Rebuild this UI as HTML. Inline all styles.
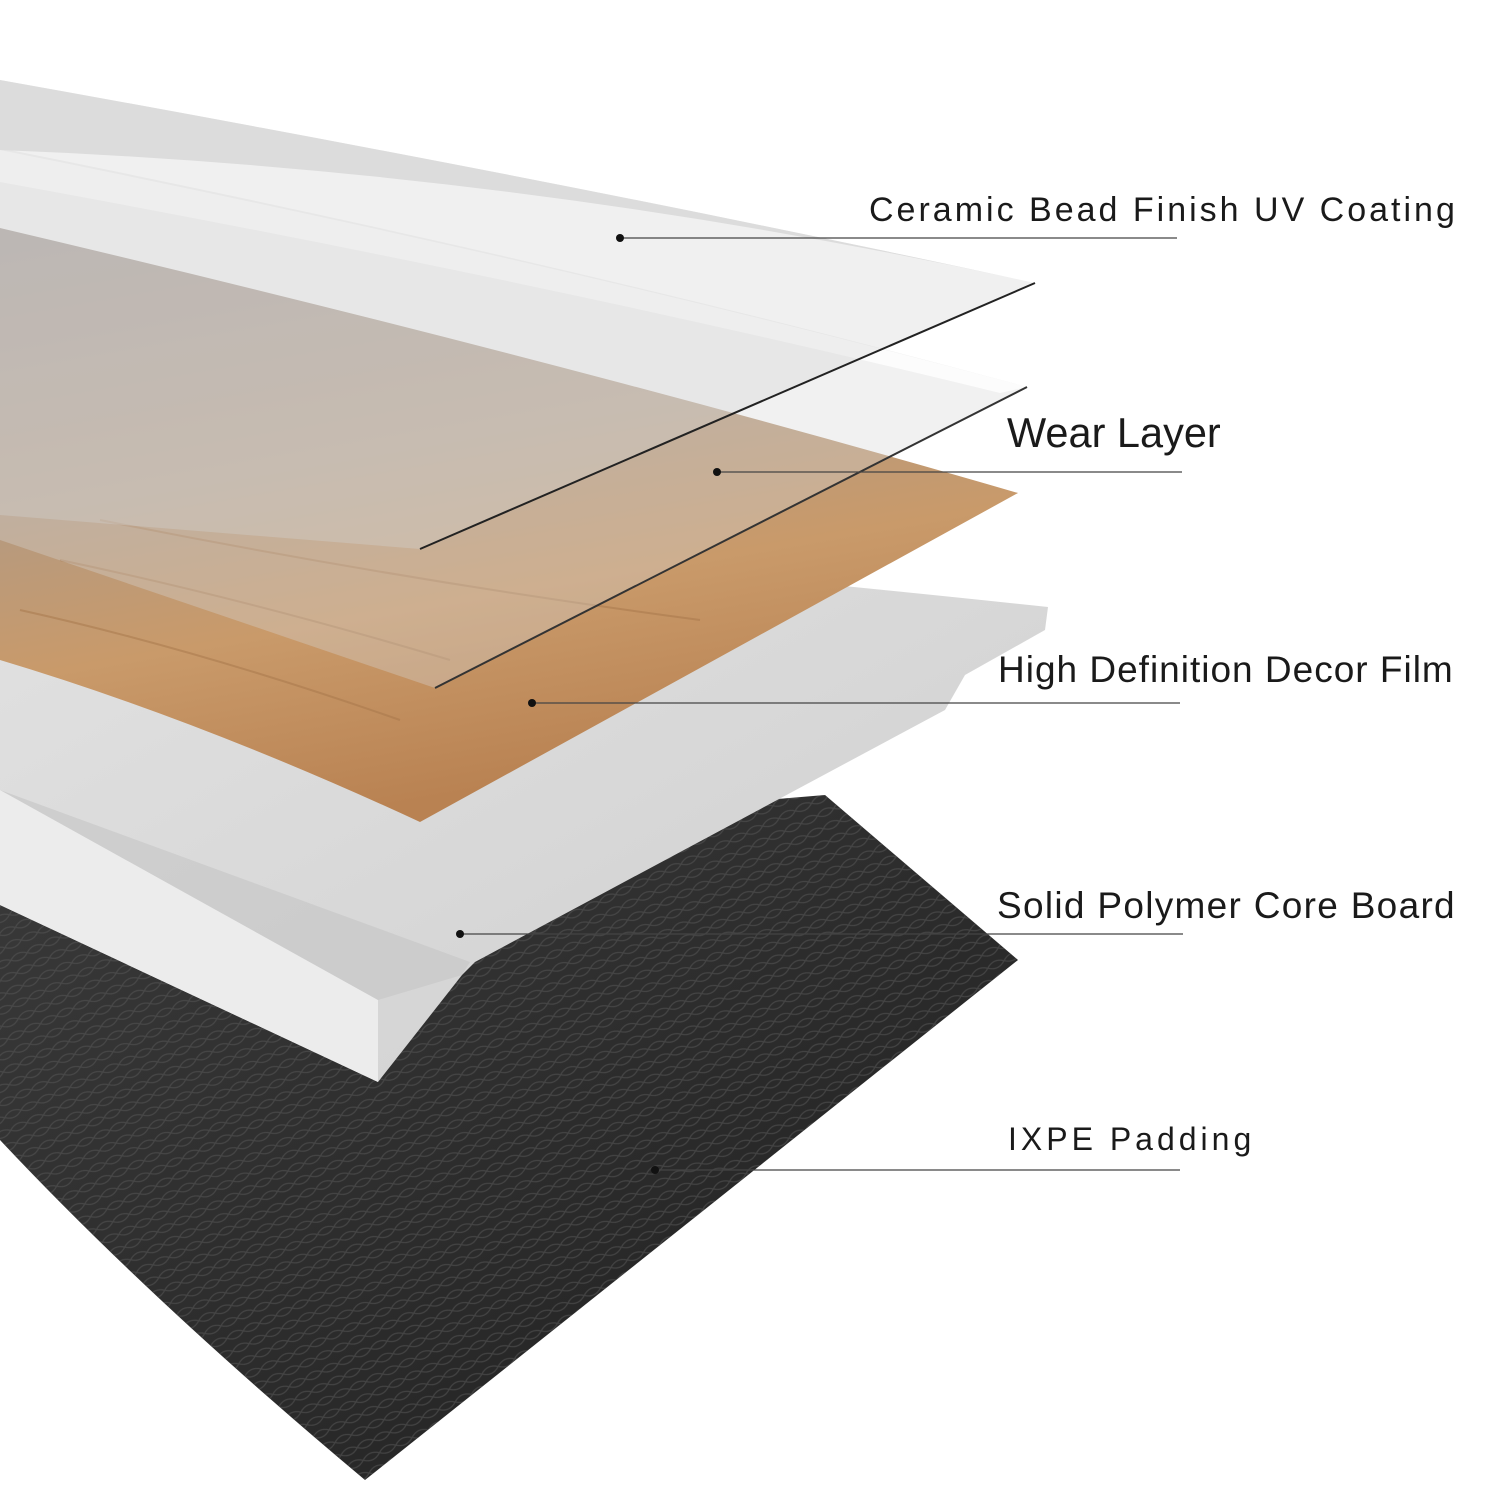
<!DOCTYPE html>
<html><head><meta charset="utf-8"><style>
html,body{margin:0;padding:0;background:#fff;}
svg{display:block}
text{font-family:"Liberation Sans",sans-serif;fill:#1a1a1a}
</style></head><body>
<svg width="1500" height="1500" viewBox="0 0 1500 1500" xmlns="http://www.w3.org/2000/svg">
<defs>
<linearGradient id="wood" x1="0" y1="0" x2="0.3" y2="1">
<stop offset="0" stop-color="#9a8f88"/><stop offset="0.45" stop-color="#b59a80"/><stop offset="0.7" stop-color="#c99a6a"/><stop offset="1" stop-color="#b98252"/></linearGradient>
<linearGradient id="core" x1="0" y1="0" x2="1" y2="1">
<stop offset="0" stop-color="#e2e2e2"/><stop offset="1" stop-color="#cfcfcf"/></linearGradient>
<linearGradient id="pad" x1="0" y1="0" x2="1" y2="1">
<stop offset="0" stop-color="#3a3a3a"/><stop offset="0.6" stop-color="#2a2a2a"/><stop offset="1" stop-color="#1e1e1e"/></linearGradient>
<pattern id="lace" width="18" height="14" patternUnits="userSpaceOnUse" patternTransform="rotate(-25)">
<path d="M0 7 Q9 0 18 7 Q9 14 0 7Z" fill="none" stroke="#555" stroke-width="1.2"/></pattern>
</defs>
<path d="M0 905 Q400 830 825 795 L1018 960 L365 1480 Q150 1300 0 1140Z" fill="url(#pad)"/>
<path d="M0 905 Q400 830 825 795 L1018 960 L365 1480 Q150 1300 0 1140Z" fill="url(#lace)" opacity="0.6"/>
<path d="M0 505 Q600 560 1048 607 L1045 630 L965 675 L945 710 L475 962 L462 975 L378 1082 L0 905Z" fill="url(#core)"/>
<path d="M0 790 L378 1000 L378 1082 L0 905Z" fill="#ececec"/>
<path d="M0 790 L470 962 L462 975 L378 1000Z" fill="#c4c4c4" opacity="0.6"/>
<path d="M0 228 Q560 360 1018 493 L420 822 Q200 720 0 660Z" fill="url(#wood)"/>
<path d="M60 560 Q250 600 450 660 M20 610 Q200 650 400 720 M100 520 Q400 580 700 620" stroke="#a6764a" stroke-width="2" fill="none" opacity="0.5"/>
<!-- wear layer -->
<path d="M0 148 Q560 260 1027 387 L435 688 L0 540Z" fill="#d8d8d8" fill-opacity="0.35"/>
<path d="M0 150 Q560 262 1027 387 L1000 393 Q540 280 0 182Z" fill="#ffffff" fill-opacity="0.8"/>
<path d="M1027 387 L435 688" stroke="#333" stroke-width="2" fill="none"/>
<!-- UV coating -->
<path d="M0 80 Q560 180 1035 283 L420 549 L0 515Z" fill="#d4d4d4" fill-opacity="0.35"/>
<path d="M0 80 Q560 180 1035 283 Q520 170 0 150Z" fill="#dcdcdc"/>
<path d="M1035 283 L420 549" stroke="#222" stroke-width="2" fill="none"/>
<g stroke="#444" stroke-width="1.3">
<line x1="620" y1="238" x2="1177" y2="238"/>
<line x1="717" y1="472" x2="1182" y2="472"/>
<line x1="532" y1="703" x2="1180" y2="703"/>
<line x1="460" y1="934" x2="1183" y2="934"/>
<line x1="655" y1="1170" x2="1180" y2="1170"/>
</g>
<g fill="#111">
<circle cx="620" cy="238" r="4"/><circle cx="717" cy="472" r="4"/><circle cx="532" cy="703" r="4"/><circle cx="460" cy="934" r="4"/><circle cx="655" cy="1170" r="4"/>
</g>
<text x="869" y="221" font-size="34" letter-spacing="3">Ceramic Bead Finish UV Coating</text>
<text x="1007" y="447" font-size="41.5">Wear Layer</text>
<text x="998" y="682" font-size="37" letter-spacing="1">High Definition Decor Film</text>
<text x="997" y="918" font-size="37" letter-spacing="1.3">Solid Polymer Core Board</text>
<text x="1008" y="1150" font-size="32" letter-spacing="4">IXPE Padding</text>
</svg>
</body></html>
